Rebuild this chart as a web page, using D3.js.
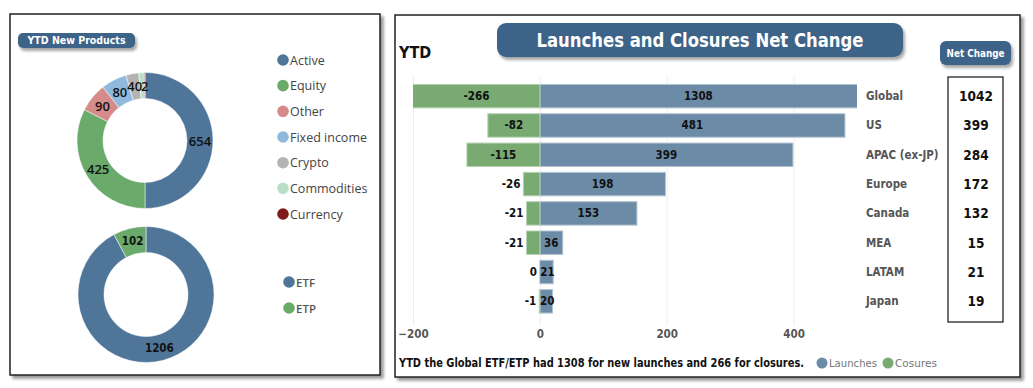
<!DOCTYPE html>
<html>
<head>
<meta charset="utf-8">
<script src="https://cdn.jsdelivr.net/npm/d3@7"></script>
<style>
  body { margin: 0; background: #fff; }
</style>
</head>
<body>
<div id="chart"></div>
<script>
// Declare constants
const WIDTH = 1033;
const HEIGHT = 388;
const NARROW = "'DejaVu Sans Condensed', 'Liberation Sans Narrow', sans-serif";
const SEGOE = "'Open Sans', 'Noto Sans', sans-serif";
const BTN = "#3c6489";

// new products by type (top donut)
const typeNames = ["Active", "Equity", "Other", "Fixed income", "Crypto", "Commodities", "Currency"];
const typeValues = [654, 425, 90, 80, 40, 17, 2];
const typeColors = ["#4f7599", "#6aaa6b", "#d68b8b", "#8fbadd", "#b3b3b3", "#b9dfc9", "#7d1a1a"];
// slices that carry a data label in the reference
const typeLabelled = ["Active", "Equity", "Other", "Fixed income", "Crypto", "Currency"];

// new products by wrapper (bottom donut)
const wrapperNames = ["ETF", "ETP"];
const wrapperValues = [1206, 102];
const wrapperColors = ["#4f7599", "#6aaa6b"];

// launches / closures by region
const regions = ["Global", "US", "APAC (ex-JP)", "Europe", "Canada", "MEA", "LATAM", "Japan"];
const launches = [1308, 481, 399, 198, 153, 36, 21, 20];
const closures = [-266, -82, -115, -26, -21, -21, 0, -1];
const xTicks = [-200, 0, 200, 400];

const svg = d3.select("#chart").append("svg")
    .attr("width", WIDTH)
    .attr("height", HEIGHT)
    .style("font-family", NARROW);

const defs = svg.append("defs");
defs.append("filter").attr("id", "shadow")
    .attr("x", "-10%").attr("y", "-20%").attr("width", "130%").attr("height", "170%")
  .append("feDropShadow")
    .attr("dx", 2).attr("dy", 3).attr("stdDeviation", 1.6)
    .attr("flood-color", "#000").attr("flood-opacity", 0.35);
defs.append("filter").attr("id", "panelShadow")
    .attr("x", "-5%").attr("y", "-5%").attr("width", "110%").attr("height", "110%")
  .append("feDropShadow")
    .attr("dx", 3).attr("dy", 3).attr("stdDeviation", 1.5)
    .attr("flood-color", "#000").attr("flood-opacity", 0.4);

// panels
function panel(x, y, w, h) {
  svg.append("rect")
      .attr("x", x).attr("y", y).attr("width", w).attr("height", h)
      .attr("fill", "#fff")
      .attr("stroke", "#222")
      .attr("stroke-width", 1.5)
      .attr("filter", "url(#panelShadow)");
}
panel(10, 14, 370, 361);
panel(395, 15, 625, 362);

function button(x, y, w, h, r, label, size, len) {
  svg.append("rect")
      .attr("x", x).attr("y", y).attr("width", w).attr("height", h)
      .attr("rx", r)
      .attr("fill", BTN)
      .attr("filter", "url(#shadow)");
  const t = svg.append("text")
      .attr("x", x + w / 2).attr("y", y + h / 2)
      .attr("text-anchor", "middle")
      .attr("dominant-baseline", "central")
      .attr("fill", "#fff")
      .attr("font-weight", "bold")
      .attr("font-size", size)
      .text(label);
  if (len) t.attr("textLength", len).attr("lengthAdjust", "spacingAndGlyphs");
}

// Frame1: donuts
button(18, 33, 117, 15, 5, "YTD New Products", 10, 98);

const pie = d3.pie().sort(null).value(d => d);
const arc = d3.arc().innerRadius(42).outerRadius(68);

const topPie = svg.append("g").attr("transform", "translate(145,140.5)");
const topArcs = pie(typeValues);
topPie.selectAll("path")
    .data(topArcs)
    .join("path")
      .attr("d", arc)
      .attr("fill", (d, i) => typeColors[i])
      .attr("stroke", "#fff")
      .attr("stroke-width", 0.5);
topPie.selectAll("text")
    .data(topArcs.filter((d, i) => typeLabelled.includes(typeNames[i])))
    .join("text")
      .attr("transform", d => `translate(${arc.centroid(d)})`)
      .attr("text-anchor", "middle")
      .attr("dominant-baseline", "central")
      .attr("font-family", SEGOE)
      .attr("font-weight", 600)
      .attr("font-size", 13)
      .attr("fill", "#111")
      .text(d => d.data);

const legend1 = svg.append("g");
legend1.selectAll("circle")
    .data(typeNames)
    .join("circle")
      .attr("cx", 283)
      .attr("cy", (d, i) => 60 + i * 25.67)
      .attr("r", 5.8)
      .attr("fill", (d, i) => typeColors[i]);
legend1.selectAll("text")
    .data(typeNames)
    .join("text")
      .attr("x", 290)
      .attr("y", (d, i) => 60 + i * 25.67)
      .attr("dominant-baseline", "central")
      .attr("font-family", SEGOE)
      .attr("font-size", 12.5)
      .attr("fill", "#444")
      .text(d => d);

const botPie = svg.append("g").attr("transform", "translate(146,294.5)");
const botArcs = pie(wrapperValues);
botPie.selectAll("path")
    .data(botArcs)
    .join("path")
      .attr("d", arc)
      .attr("fill", (d, i) => wrapperColors[i])
      .attr("stroke", "#fff")
      .attr("stroke-width", 0.5);
botPie.selectAll("text")
    .data(botArcs)
    .join("text")
      .attr("transform", d => `translate(${arc.centroid(d)})`)
      .attr("text-anchor", "middle")
      .attr("dominant-baseline", "central")
      .attr("font-weight", "bold")
      .attr("font-size", 11.5)
      .attr("fill", "#111")
      .text(d => d.data);

const legend2 = svg.append("g");
legend2.selectAll("circle")
    .data(wrapperNames)
    .join("circle")
      .attr("cx", 289)
      .attr("cy", (d, i) => 282 + i * 26)
      .attr("r", 5.8)
      .attr("fill", (d, i) => wrapperColors[i]);
legend2.selectAll("text")
    .data(wrapperNames)
    .join("text")
      .attr("x", 296)
      .attr("y", (d, i) => 282 + i * 26)
      .attr("dominant-baseline", "central")
      .attr("font-family", SEGOE)
      .attr("font-weight", 600)
      .attr("font-size", 11.5)
      .attr("fill", "#555")
      .text(d => d);

// Frame2: launches and closures
button(497, 23, 406, 34, 9, "Launches and Closures Net Change", 20, 327);
button(940, 41, 71, 24, 6, "Net Change", 10, 58);

svg.append("text")
    .attr("x", 399).attr("y", 52)
    .attr("dominant-baseline", "central")
    .attr("font-weight", "bold")
    .attr("font-size", 16)
    .attr("fill", "#111")
    .text("YTD");

const x = d3.scaleLinear().domain([-200, 500]).range([413, 857]);
const y = d3.scaleBand().domain(regions).range([81.5, 316]).paddingInner(0.2).paddingOuter(0.1);

// gridlines
svg.append("g")
    .attr("transform", "translate(0,76)")
    .call(d3.axisBottom(x).tickValues(xTicks).tickSize(249).tickFormat(""))
    .call(g => g.select(".domain").remove())
    .call(g => g.selectAll("line").attr("stroke", "#eeeeee"));

// tick labels
svg.append("g")
    .attr("transform", "translate(0,330)")
    .call(d3.axisBottom(x).tickValues(xTicks).tickSize(0).tickPadding(0).tickFormat(d3.format("d")))
    .call(g => g.select(".domain").remove())
    .call(g => g.selectAll("text")
        .attr("font-family", NARROW)
        .attr("font-weight", "bold")
        .attr("font-size", 11.5)
        .attr("fill", "#555"));

defs.append("clipPath").attr("id", "plotClip")
  .append("rect").attr("x", 413).attr("y", 70).attr("width", 444).attr("height", 260);

const bars = svg.append("g").attr("clip-path", "url(#plotClip)");
bars.selectAll("rect.launch")
    .data(regions)
    .join("rect")
      .attr("class", "launch")
      .attr("x", x(0))
      .attr("y", d => y(d))
      .attr("width", (d, i) => x(launches[i]) - x(0))
      .attr("height", y.bandwidth())
      .attr("fill", "#6b8ba7")
      .attr("stroke", "#b3c3d3")
      .attr("stroke-width", 1);
bars.selectAll("rect.close")
    .data(regions)
    .join("rect")
      .attr("class", "close")
      .attr("x", (d, i) => x(closures[i]))
      .attr("y", d => y(d))
      .attr("width", (d, i) => x(0) - x(closures[i]))
      .attr("height", y.bandwidth())
      .attr("fill", "#78aa72")
      .attr("stroke", "#b6d3b0")
      .attr("stroke-width", 1)
      .attr("display", (d, i) => closures[i] === 0 ? "none" : null);

const lo = x.domain()[0], hi = x.domain()[1];
// launch labels
svg.append("g").selectAll("text")
    .data(regions)
    .join("text")
      .attr("x", (d, i) => (x(0) + x(Math.min(launches[i], hi))) / 2 + (launches[i] < 30 ? 1 : 0))
      .attr("y", d => y(d) + y.bandwidth() / 2)
      .attr("text-anchor", "middle")
      .attr("dominant-baseline", "central")
      .attr("font-weight", "bold")
      .attr("font-size", 11.5)
      .attr("fill", "#111")
      .text((d, i) => launches[i]);
// closure labels
svg.append("g").selectAll("text")
    .data(regions)
    .join("text")
      .attr("x", (d, i) => {
        const v = Math.max(closures[i], lo);
        return x(v) - x(0) < -40 ? (x(0) + x(v)) / 2 : x(v) - 3;
      })
      .attr("y", d => y(d) + y.bandwidth() / 2)
      .attr("text-anchor", (d, i) => x(Math.max(closures[i], lo)) - x(0) < -40 ? "middle" : "end")
      .attr("dominant-baseline", "central")
      .attr("font-weight", "bold")
      .attr("font-size", 11.5)
      .attr("fill", "#111")
      .text((d, i) => closures[i]);

// region labels
svg.append("g").selectAll("text")
    .data(regions)
    .join("text")
      .attr("x", 866)
      .attr("y", d => y(d) + y.bandwidth() / 2)
      .attr("dominant-baseline", "central")
      .attr("font-weight", "bold")
      .attr("font-size", 11.5)
      .attr("fill", "#555")
      .text(d => d);

// net change column
svg.append("rect")
    .attr("x", 948).attr("y", 77).attr("width", 55).attr("height", 245)
    .attr("fill", "none")
    .attr("stroke", "#111")
    .attr("stroke-width", 1.2);
svg.append("g").selectAll("text")
    .data(regions)
    .join("text")
      .attr("x", 976)
      .attr("y", d => y(d) + y.bandwidth() / 2)
      .attr("text-anchor", "middle")
      .attr("dominant-baseline", "central")
      .attr("font-weight", "bold")
      .attr("font-size", 13.5)
      .attr("fill", "#111")
      .text((d, i) => launches[i] + closures[i]);

// footer
svg.append("text")
    .attr("x", 399).attr("y", 363)
    .attr("dominant-baseline", "central")
    .attr("font-weight", "bold")
    .attr("font-size", 11.5)
    .attr("fill", "#111")
    .attr("textLength", 405)
    .attr("lengthAdjust", "spacingAndGlyphs")
    .text(`YTD the Global ETF/ETP had ${launches[0]} for new launches and ${-closures[0]} for closures.`);

const foot = [["Launches", "#6b8ba7", 822, 48], ["Cosures", "#78aa72", 888, 42]];
foot.forEach(([label, color, cx, len]) => {
  svg.append("circle").attr("cx", cx).attr("cy", 363).attr("r", 5.5).attr("fill", color);
  svg.append("text")
      .attr("x", cx + 7).attr("y", 363)
      .attr("dominant-baseline", "central")
      .attr("font-size", 11)
      .attr("fill", "#777")
      .attr("textLength", len)
      .attr("lengthAdjust", "spacingAndGlyphs")
      .text(label);
});
</script>
</body>
</html>
